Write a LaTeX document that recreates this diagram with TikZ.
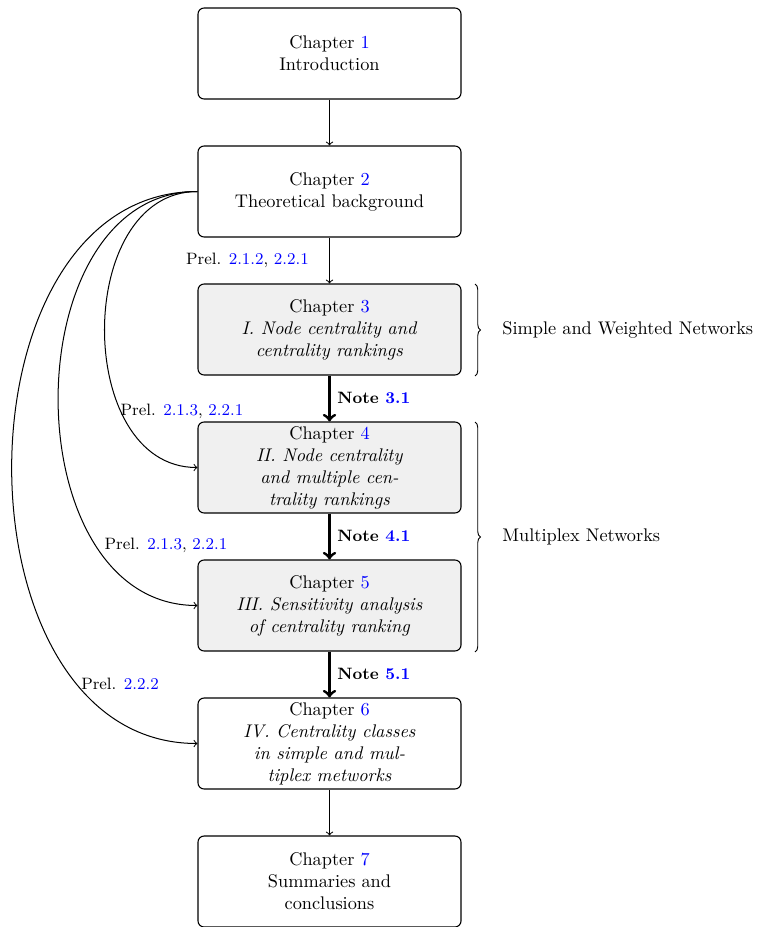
\documentclass[tikz,border=0pt]{standalone}
\usepackage{fontspec}
\usetikzlibrary{decorations.pathreplacing}

\tikzset{
  chapbox/.style={draw, rounded corners=3.3pt, line width=0.6pt,
    minimum width=143.7pt, minimum height=49.7pt, align=center,
    inner sep=2pt, font=\normalsize},
  partbox/.style={chapbox, fill=black!6},
  thinarrow/.style={->, line width=0.55pt},
  thickarrow/.style={->, line width=1.6pt},
  prelabel/.style={inner sep=0pt, font=\small},
  notelabel/.style={anchor=west, inner sep=0pt, font=\small\bfseries},
  groupbrace/.style={decorate, decoration={brace, amplitude=3pt}, line width=0.5pt},
  grouplabel/.style={anchor=west, inner sep=0pt}
}
\newcommand{\chref}[1]{\textcolor{blue}{#1}}

\begin{document}
\begin{tikzpicture}[x=0.5464pt, y=-0.5464pt]
  \useasboundingbox (0,0) rectangle (767,927);

  % chapter boxes
  \node[chapbox] (c1) at (329.5,53.5) {Chapter \chref{1}\\Introduction};
  \node[chapbox] (c2) at (329.5,191.5) {Chapter \chref{2}\\Theoretical background};
  \node[partbox] (c3) at (329.5,329.5) {Chapter \chref{3}\\\textit{I. Node centrality and}\\\textit{centrality rankings}};
  \node[partbox] (c4) at (329.5,467.5) {Chapter \chref{4}\\\textit{II. Node centrality}\\\textit{and multiple cen-}\\\textit{trality rankings}};
  \node[partbox] (c5) at (329.5,605.5) {Chapter \chref{5}\\\textit{III. Sensitivity analysis}\\\textit{of centrality ranking}};
  \node[chapbox] (c6) at (329.5,743.5) {Chapter \chref{6}\\\textit{IV. Centrality classes}\\\textit{in simple and mul-}\\\textit{tiplex metworks}};
  \node[chapbox] (c7) at (329.5,881.5) {Chapter \chref{7}\\Summaries and\\conclusions};

  % main reading order
  \draw[thinarrow] (c1) -- (c2);
  \draw[thinarrow] (c2) -- (c3);
  \draw[thickarrow] (c3) -- (c4);
  \draw[thickarrow] (c4) -- (c5);
  \draw[thickarrow] (c5) -- (c6);
  \draw[thinarrow] (c6) -- (c7);

  % preliminaries used by later chapters
  \draw[thinarrow] (c2.west) to[out=180, in=180, looseness=1.15] (c4.west);
  \draw[thinarrow] (c2.west) to[out=180, in=180, looseness=1.15] (c5.west);
  \draw[thinarrow] (c2.west) to[out=180, in=180, looseness=1.15] (c6.west);

  % labels
  \node[prelabel] (p1) at (247.5,260) {Prel. \chref{2.1.2}, \chref{2.2.1}};
  \node[prelabel] (p2) at (182,411) {Prel. \chref{2.1.3}, \chref{2.2.1}};
  \node[prelabel] (p3) at (166,545) {Prel. \chref{2.1.3}, \chref{2.2.1}};
  \node[prelabel] (p4) at (120,684) {Prel. \chref{2.2.2}};
  \node[notelabel] (n3) at (337,398) {Note \chref{3.1}};
  \node[notelabel] (n4) at (337,536) {Note \chref{4.1}};
  \node[notelabel] (n5) at (337,674) {Note \chref{5.1}};

  % groups of chapters
  \coordinate (b1t) at (475,284);
  \coordinate (b1b) at (475,376);
  \coordinate (b2t) at (475,422);
  \coordinate (b2b) at (475,652);
  \draw[groupbrace] (b1t) -- (b1b);
  \draw[groupbrace] (b2t) -- (b2b);
  \node[grouplabel] (g1) at (502,329.5) {Simple and Weighted Networks};
  \node[grouplabel] (g2) at (502,536.5) {Multiplex Networks};
\end{tikzpicture}
\end{document}
